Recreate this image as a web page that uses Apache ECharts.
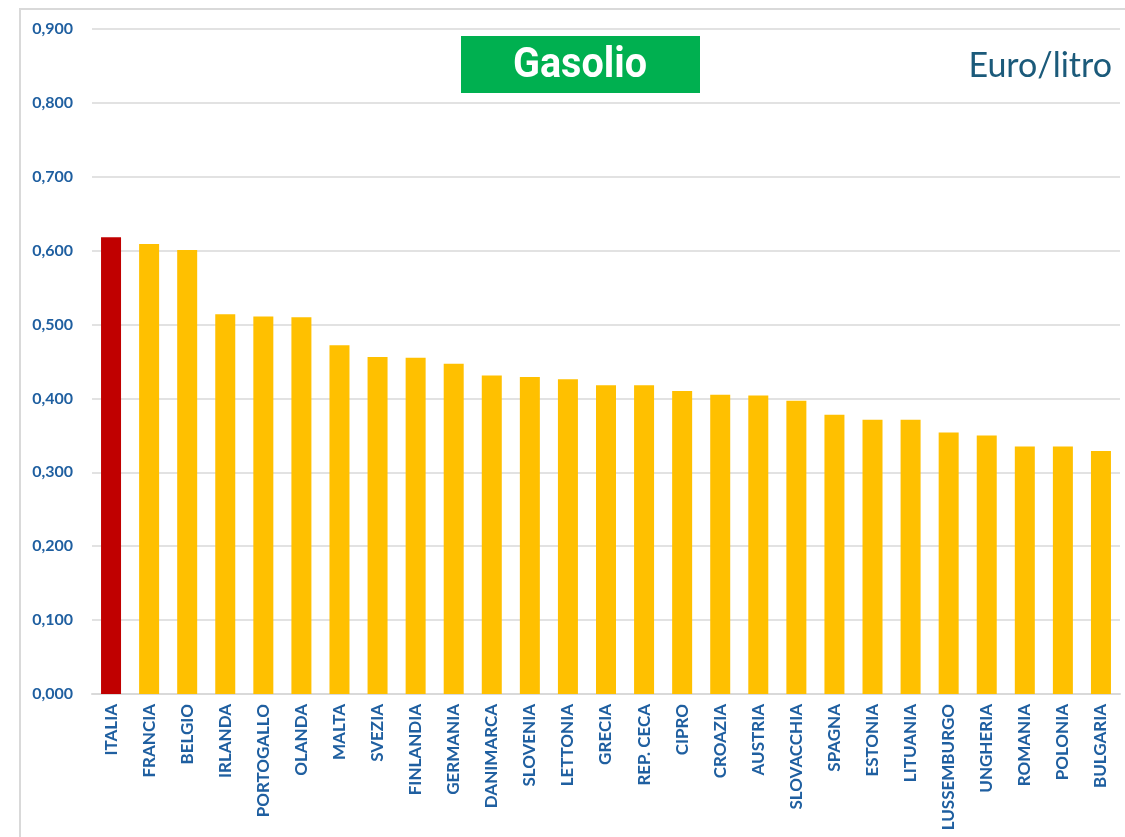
<!DOCTYPE html>
<html>
<head>
<meta charset="utf-8">
<script src="https://cdn.jsdelivr.net/npm/echarts@6/dist/echarts.min.js"></script>
<style>
  html, body { margin: 0; padding: 0; background: #fff; }
  #main { width: 1125px; height: 837px; }
</style>
</head>
<body>
<div id="main"></div>
<script>
// paesi e prezzo gasolio (euro/litro)
const countries = ['ITALIA', 'FRANCIA', 'BELGIO', 'IRLANDA', 'PORTOGALLO', 'OLANDA', 'MALTA', 'SVEZIA',
  'FINLANDIA', 'GERMANIA', 'DANIMARCA', 'SLOVENIA', 'LETTONIA', 'GRECIA', 'REP. CECA', 'CIPRO',
  'CROAZIA', 'AUSTRIA', 'SLOVACCHIA', 'SPAGNA', 'ESTONIA', 'LITUANIA', 'LUSSEMBURGO', 'UNGHERIA',
  'ROMANIA', 'POLONIA', 'BULGARIA'];
const prices = [0.618, 0.609, 0.601, 0.514, 0.511, 0.510, 0.472, 0.456,
  0.455, 0.447, 0.431, 0.429, 0.426, 0.418, 0.418, 0.410,
  0.405, 0.404, 0.397, 0.378, 0.371, 0.371, 0.354, 0.350,
  0.335, 0.335, 0.329];
const highlight = 'ITALIA';
const yTicks = { min: 0, max: 0.9, interval: 0.1 };

let myChart = echarts.init(document.getElementById('main'));

myChart.setOption({
  animation: false,
  backgroundColor: '#fff',
  grid: {
    left: 92,
    right: 5,
    top: 29,
    bottom: 143
  },
  graphic: [
    {
      type: 'rect',
      z: 0,
      shape: { x: 20, y: 9, width: 1200, height: 1000 },
      style: { fill: 'none', stroke: '#d9d9d9', lineWidth: 2 }
    },
    {
      type: 'rect',
      z: 10,
      shape: { x: 461, y: 36, width: 239, height: 57 },
      style: { fill: '#00b050' }
    },
    {
      type: 'text',
      z: 11,
      x: 580,
      y: 66,
      scaleX: 0.92,
      style: {
        text: 'Gasolio',
        fill: '#fff',
        font: 'bold 43px Roboto',
        align: 'center',
        verticalAlign: 'middle'
      }
    },
    {
      type: 'text',
      z: 11,
      x: 1112,
      y: 66,
      style: {
        text: 'Euro/litro',
        fill: '#1b5a7a',
        font: '34px Lato',
        align: 'right',
        verticalAlign: 'middle'
      }
    }
  ],
  xAxis: {
    type: 'category',
    data: countries,
    axisLine: { lineStyle: { color: '#d9d9d9', width: 2 } },
    axisTick: { show: false },
    axisLabel: {
      rotate: 90,
      interval: 0,
      margin: 10,
      color: '#1f5fa0',
      fontFamily: 'Lato',
      fontWeight: 'bold',
      fontSize: 17
    }
  },
  yAxis: {
    type: 'value',
    min: yTicks.min,
    max: yTicks.max,
    interval: yTicks.interval,
    axisLine: { show: false },
    axisTick: { show: false },
    splitLine: { lineStyle: { color: '#d9d9d9', width: 1.5 } },
    axisLabel: {
      margin: 19,
      color: '#1f5fa0',
      fontFamily: 'Lato',
      fontWeight: 'bold',
      fontSize: 16,
      formatter: function (value) {
        return value.toFixed(3).replace('.', ',')
      }
    }
  },
  series: [
    {
      type: 'bar',
      barWidth: 20,
      data: prices.map((v, i) => ({
        value: v,
        itemStyle: { color: countries[i] === highlight ? '#c00000' : '#ffc000' }
      }))
    }
  ]
});
</script>
</body>
</html>
